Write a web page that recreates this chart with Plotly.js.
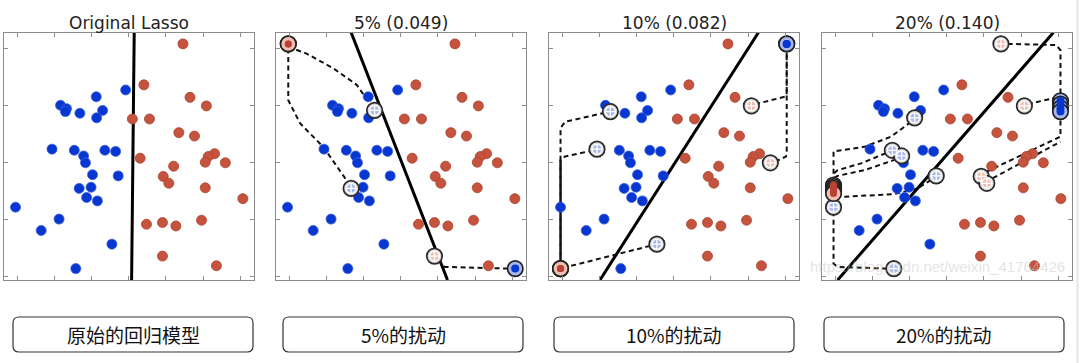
<!DOCTYPE html>
<html>
<head>
<meta charset="utf-8">
<script src="https://cdn.plot.ly/plotly-3.0.1.min.js"></script>
<style>html,body{margin:0;padding:0;background:#fff;}#chart{width:1080px;height:363px;}</style>
</head>
<body>
<div id="chart"></div>
<script>
// ---- base data set (same in every panel) ----
const blueX = [2.92,2.13,1.17,1.33,1.30,1.69,2.30,2.14,0.94,1.54,1.79,1.84,2.36,2.65,2.03,2.72,1.67,1.99,1.87,2.16,-0.04,1.13,0.65,2.55,1.58];
const blueY = [3.27,3.15,3.00,2.94,2.89,2.86,2.91,2.78,2.23,2.21,2.11,1.99,2.21,2.19,1.78,1.76,1.54,1.56,1.38,1.32,1.21,1.00,0.80,0.56,0.13];
const redX  = [4.46,3.41,4.65,5.09,3.10,3.56,4.35,4.77,3.31,5.31,5.14,5.06,5.60,4.21,3.93,4.08,5.06,6.07,3.48,3.91,4.27,4.96,3.91,5.36];
const redY  = [4.08,3.36,3.14,2.99,2.76,2.76,2.52,2.46,2.07,2.15,2.10,2.00,1.99,1.93,1.75,1.63,1.55,1.36,0.91,0.94,0.88,0.98,0.35,0.18];

// ---- panel titles and captions ----
const titles = ['Original Lasso','5% (0.049)','10% (0.082)','20% (0.140)'];
const captions = ['原始的回归模型','5%的扰动','10%的扰动','20%的扰动'];

// ---- decision boundaries ----
const boundX = [[3.15,3.08],[1.67,4.26],[5.28,1.02],[5.87,0.07]];
const boundY = [[4.28,-0.07],[4.28,-0.07],[4.28,-0.07],[4.28,-0.07]];

// ---- perturbed points (indices into base data) ----
const movedBlue = [[], [6,16], [4,8,23], [7,9,10,15,20,24]];
const movedRed  = [[], [22], [3,12], [0,3,14,15]];

// ---- new positions of perturbed points ----
const flipRedX  = [[], [-0.02,-0.02], [-0.04,-0.04,-0.04], [-0.04,-0.04,-0.04,-0.04,-0.04,-0.04]];
const flipRedY  = [[], [4.08,4.08], [0.13,0.13,0.13], [1.60,1.57,1.54,1.51,1.48,1.45]];
const flipBlueX = [[], [6.08], [6.04,6.04], [6.06,6.06,6.06,6.06]];
const flipBlueY = [[], [0.13], [4.08,4.08], [3.08,3.02,2.95,2.89]];

// ---- dashed move paths ----
const dashX = [
  [],
  [[-0.02,0.47,1.19,1.82,2.15],[-0.02,-0.02,0.30,0.92,1.55],[4.00,4.19,5.95]],
  [[1.16,0.08,-0.04,-0.04],[0.84,0.08,-0.04,-0.04],[2.37,1.20,0.13],[5.19,5.99,6.04,6.04],[5.73,6.02,6.04,6.04]],
  [[4.64,5.94,6.06,6.06],[5.18,5.94,6.03],[4.06,5.94,6.06,6.06],[4.24,5.99,6.06],
   [2.04,1.51,0.79,-0.04,-0.04],[1.37,0.70,0.07,-0.04],[1.64,0.79,0.07,-0.04],[2.58,2.22,1.59,0.16,-0.04],[1.40,0.07,-0.04,-0.04]]
];
const dashY = [
  [],
  [[4.03,3.91,3.65,3.36,3.05],[4.00,3.09,2.68,2.27,1.68],[0.28,0.16,0.13]],
  [[2.87,2.71,2.60,0.16],[2.21,2.10,2.04,0.16],[0.53,0.34,0.16],[3.02,3.15,3.18,3.98],[2.01,2.10,2.19,3.98]],
  [[4.08,4.06,3.97,3.12],[3.02,3.14,3.15],[1.83,2.42,2.45,2.86],[1.72,2.33,2.36],
   [2.71,2.45,2.27,2.19,1.62],[2.16,1.98,1.86,1.80],[2.05,1.86,1.76,1.72],[1.69,1.54,1.44,1.39,1.45],[0.13,0.16,0.22,1.40]]
];
// overlapping dashed runs that read as a solid segment
const solidX = [[], [], [[-0.04,-0.04]], []];
const solidY = [[], [], [[2.04,0.16]], []];

// ---- styling ----
const BLUE = '#0736d0', BLUE_EDGE = '#3560e0';
const RED = '#c6533e', RED_EDGE = '#a8432f';
const LBLUE = '#a9b9ee', LRED = '#f1beb2';
const W = 1080, H = 363;
const panelLeft = [4, 276, 549, 822];
const panelW = 250, plotTop = 32.5, plotBottom = 280;

const traces = [];
const layout = {
  width: W, height: H, autosize: false,
  margin: {l:0, r:0, t:0, b:0},
  paper_bgcolor: '#ffffff', plot_bgcolor: '#ffffff',
  showlegend: false,
  annotations: [], shapes: []
};

function px2x(px){ return px / W; }
function py2y(py){ return 1 - py / H; }

for (let i = 0; i < 4; i++) {
  const xa = i === 0 ? 'x' : 'x' + (i + 1);
  const ya = i === 0 ? 'y' : 'y' + (i + 1);
  const axCommon = {
    showgrid:false, zeroline:false, showline:true, mirror:'ticks',
    linecolor:'#8c8c8c', linewidth:1, ticks:'inside', ticklen:4, tickcolor:'#8c8c8c',
    showticklabels:false, fixedrange:true
  };
  layout[i === 0 ? 'xaxis' : 'xaxis' + (i + 1)] = Object.assign({}, axCommon, {
    domain:[px2x(panelLeft[i]), px2x(panelLeft[i] + panelW)],
    range:[-0.35, 6.37], tickvals:[0,1,2,3,4,5,6], anchor: ya
  });
  layout[i === 0 ? 'yaxis' : 'yaxis' + (i + 1)] = Object.assign({}, axCommon, {
    domain:[py2y(plotBottom), py2y(plotTop)],
    range:[-0.07, 4.28], tickvals:[0,1,2,3,4], anchor: xa
  });

  // boundary
  traces.push({x: boundX[i], y: boundY[i], xaxis: xa, yaxis: ya, mode:'lines',
    line:{color:'#000', width:3}, hoverinfo:'skip'});
  // dashed paths
  for (let k = 0; k < dashX[i].length; k++) {
    traces.push({x: dashX[i][k], y: dashY[i][k], xaxis: xa, yaxis: ya, mode:'lines',
      line:{color:'#111', width:2, dash:'5px,3.5px'}, hoverinfo:'skip'});
  }
  for (let k = 0; k < solidX[i].length; k++) {
    traces.push({x: solidX[i][k], y: solidY[i][k], xaxis: xa, yaxis: ya, mode:'lines',
      line:{color:'#111', width:2}, hoverinfo:'skip'});
  }
  // normal points
  const bx = [], by = [], rx = [], ry = [];
  blueX.forEach((v, j) => { if (!movedBlue[i].includes(j)) { bx.push(v); by.push(blueY[j]); } });
  redX.forEach((v, j) => { if (!movedRed[i].includes(j)) { rx.push(v); ry.push(redY[j]); } });
  traces.push({x: bx, y: by, xaxis: xa, yaxis: ya, mode:'markers',
    marker:{size:10, color:BLUE, line:{color:BLUE_EDGE, width:0.8}}, hoverinfo:'skip'});
  traces.push({x: rx, y: ry, xaxis: xa, yaxis: ya, mode:'markers',
    marker:{size:10, color:RED, line:{color:RED_EDGE, width:0.8}}, hoverinfo:'skip'});
  // original positions of perturbed points (circled cross)
  const ox = [], oy = [], oc = [];
  movedBlue[i].forEach(j => { ox.push(blueX[j]); oy.push(blueY[j]); oc.push(LBLUE); });
  movedRed[i].forEach(j => { ox.push(redX[j]); oy.push(redY[j]); oc.push(LRED); });
  if (ox.length) {
    traces.push({x: ox, y: oy, xaxis: xa, yaxis: ya, mode:'markers',
      marker:{size:15.5, color:'#d8d8d8', line:{color:'#2a2a2a', width:1.7}}, hoverinfo:'skip'});
    traces.push({x: ox, y: oy, xaxis: xa, yaxis: ya, mode:'markers',
      marker:{symbol:'circle-cross', size:10, color:oc, line:{color:'#ffffff', width:1.3}}, hoverinfo:'skip'});
  }
  // perturbed points at new positions (ringed)
  if (flipRedX[i].length) {
    traces.push({x: flipRedX[i], y: flipRedY[i], xaxis: xa, yaxis: ya, mode:'markers',
      marker:{size:15.5, color:LRED, line:{color:'#222', width:1.7}}, hoverinfo:'skip'});
    traces.push({x: flipRedX[i], y: flipRedY[i], xaxis: xa, yaxis: ya, mode:'markers',
      marker:{size:7, color:'#b84332'}, hoverinfo:'skip'});
  }
  if (flipBlueX[i].length) {
    traces.push({x: flipBlueX[i], y: flipBlueY[i], xaxis: xa, yaxis: ya, mode:'markers',
      marker:{size:15.5, color:LBLUE, line:{color:'#222', width:1.7}}, hoverinfo:'skip'});
    traces.push({x: flipBlueX[i], y: flipBlueY[i], xaxis: xa, yaxis: ya, mode:'markers',
      marker:{size:8, color:BLUE}, hoverinfo:'skip'});
  }

  // title
  layout.annotations.push({
    text: titles[i], xref:'paper', yref:'paper',
    x: px2x(panelLeft[i] + panelW / 2), y: py2y(22.5),
    xanchor:'center', yanchor:'middle', showarrow:false,
    font:{family:'DejaVu Sans', size:17, color:'#222'}
  });
}

// caption boxes
const boxLeft = [13, 283, 554, 824];
const boxW = 240, boxTop = 317, boxBottom = 352, rad = 6;
function roundRect(x0, y0, x1, y1, r) {
  const X = v => px2x(v).toFixed(5), Y = v => py2y(v).toFixed(5);
  return 'M' + X(x0 + r) + ',' + Y(y0) +
    ' L' + X(x1 - r) + ',' + Y(y0) +
    ' Q' + X(x1) + ',' + Y(y0) + ' ' + X(x1) + ',' + Y(y0 + r) +
    ' L' + X(x1) + ',' + Y(y1 - r) +
    ' Q' + X(x1) + ',' + Y(y1) + ' ' + X(x1 - r) + ',' + Y(y1) +
    ' L' + X(x0 + r) + ',' + Y(y1) +
    ' Q' + X(x0) + ',' + Y(y1) + ' ' + X(x0) + ',' + Y(y1 - r) +
    ' L' + X(x0) + ',' + Y(y0 + r) +
    ' Q' + X(x0) + ',' + Y(y0) + ' ' + X(x0 + r) + ',' + Y(y0) + ' Z';
}
for (let i = 0; i < 4; i++) {
  layout.shapes.push({type:'path', xref:'paper', yref:'paper',
    path: roundRect(boxLeft[i], boxTop, boxLeft[i] + boxW, boxBottom, rad),
    line:{color:'#333', width:1.2}, fillcolor:'rgba(0,0,0,0)'});
  layout.annotations.push({
    text: captions[i], xref:'paper', yref:'paper',
    x: px2x(boxLeft[i] + boxW / 2), y: py2y((boxTop + boxBottom) / 2),
    xanchor:'center', yanchor:'middle', showarrow:false,
    font:{family:'Noto Sans CJK SC', size:19, color:'#111'}
  });
}
// faint right edge strip
layout.shapes.push({type:'line', xref:'paper', yref:'paper',
  x0: px2x(1077.5), x1: px2x(1077.5), y0: 0, y1: 1, line:{color:'#e6e6e6', width:2}});
// watermark
layout.annotations.push({
  text:'https://blog.csdn.net/weixin_41764426', xref:'paper', yref:'paper',
  x: px2x(937), y: py2y(266), xanchor:'center', yanchor:'middle', showarrow:false,
  font:{family:'Liberation Sans', size:15, color:'rgba(200,200,200,0.5)'}
});

Plotly.newPlot('chart', traces, layout, {staticPlot:true, displayModeBar:false});
</script>
</body>
</html>
